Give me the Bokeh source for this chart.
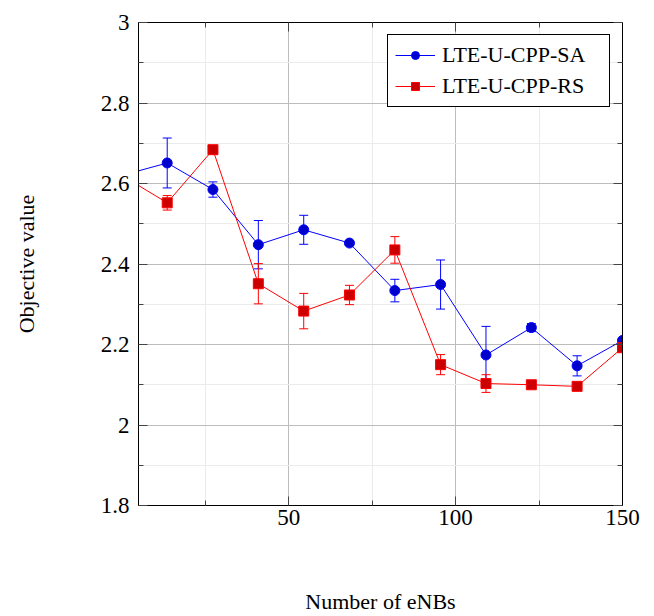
from bokeh.plotting import figure
from bokeh.models import (ColumnDataSource, Whisker, TeeHead, LinearAxis, FixedTicker,
                          Legend, LegendItem, Range1d, CustomJSTickFormatter)
from bokeh.embed import file_html
from bokeh.resources import INLINE

# ---- data ----
n_enbs = [0, 13.6, 27.3, 40.9, 54.5, 68.2, 81.8, 95.5, 109.1, 122.7, 136.4, 150]
sa_mean = [2.62, 2.651, 2.585, 2.448, 2.485, 2.452, 2.334, 2.349, 2.174, 2.242, 2.147, 2.210]
sa_err = [0.0, 0.062, 0.019, 0.060, 0.036, 0.006, 0.028, 0.061, 0.071, 0.010, 0.025, 0.005]
rs_mean = [2.62, 2.552, 2.684, 2.351, 2.283, 2.323, 2.435, 2.150, 2.103, 2.100, 2.096, 2.192]
rs_err = [0.0, 0.018, 0.004, 0.050, 0.044, 0.024, 0.033, 0.025, 0.022, 0.004, 0.003, 0.005]
series_names = ["LTE-U-CPP-SA", "LTE-U-CPP-RS"]
x_major = [0, 50, 100, 150]
x_minor = [25, 75, 125]
y_major = [1.8, 2.0, 2.2, 2.4, 2.6, 2.8, 3.0]
y_minor = [1.9, 2.1, 2.3, 2.5, 2.7, 2.9]

FONT = "Liberation Serif"

p = figure(width=654, height=616, output_backend="svg", toolbar_location=None,
           x_range=Range1d(5, 150), y_range=Range1d(1.8, 3.0),
           min_border_left=138, min_border_right=32, min_border_top=22, min_border_bottom=111,
           x_axis_label="Number of eNBs", y_axis_label="Objective value")
p.background_fill_color = "white"
p.border_fill_color = "white"
p.outline_line_color = "black"
p.outline_line_width = 1

xt = FixedTicker(ticks=x_major, minor_ticks=x_minor)
yt = FixedTicker(ticks=y_major, minor_ticks=y_minor)
fmt = CustomJSTickFormatter(code="return String(Math.round(tick*10)/10);")
blank = CustomJSTickFormatter(code="return '';")

p.xaxis.ticker = xt
p.yaxis.ticker = yt
p.yaxis.formatter = fmt
p.xaxis.formatter = fmt

for ax in (p.xaxis[0], p.yaxis[0]):
    ax.major_label_text_font = FONT
    ax.major_label_text_font_size = "23px"
    ax.major_label_text_color = "black"
    ax.axis_label_text_font = FONT
    ax.axis_label_text_font_size = "22px"
    ax.axis_label_text_font_style = "normal"
    ax.axis_label_text_color = "black"
    ax.major_tick_in = 9
    ax.major_tick_out = 0
    ax.minor_tick_in = 5
    ax.minor_tick_out = 0
    ax.major_tick_line_color = "#444444"
    ax.minor_tick_line_color = "#444444"
    ax.axis_line_color = "black"
p.yaxis.major_label_standoff = 9
p.yaxis.axis_label_standoff = 59
p.xaxis.major_label_standoff = 4
p.xaxis.axis_label_standoff = 61

for loc, tk in (("right", yt), ("above", xt)):
    ax = LinearAxis(ticker=tk, formatter=blank, major_label_standoff=0,
                    major_tick_in=9, major_tick_out=0, minor_tick_in=5, minor_tick_out=0,
                    major_tick_line_color="#444444", minor_tick_line_color="#444444",
                    axis_line_color="black")
    p.add_layout(ax, loc)

p.xgrid.ticker = xt
p.ygrid.ticker = yt
for g in (p.xgrid[0], p.ygrid[0]):
    g.grid_line_color = "#bdbdbd"
    g.grid_line_width = 1
    g.minor_grid_line_color = "#ebebeb"
    g.minor_grid_line_width = 1

styles = [
    dict(mean=sa_mean, err=sa_err, line="#0000ff", fill="#0000cc", marker="circle", size=10),
    dict(mean=rs_mean, err=rs_err, line="#ff0000", fill="#cc0000", marker="square", size=10),
]

items = []
for name, st in zip(series_names, styles):
    src = ColumnDataSource(dict(
        x=n_enbs, y=st["mean"],
        upper=[m + e for m, e in zip(st["mean"], st["err"])],
        lower=[m - e for m, e in zip(st["mean"], st["err"])],
    ))
    ln = p.line("x", "y", source=src, line_color=st["line"], line_width=1)
    wh = Whisker(base="x", upper="upper", lower="lower", source=src,
                 line_color=st["line"], line_width=1,
                 upper_head=TeeHead(size=9, line_color=st["line"], line_width=1),
                 lower_head=TeeHead(size=9, line_color=st["line"], line_width=1))
    p.add_layout(wh)
    sc = p.scatter("x", "y", source=src, marker=st["marker"], size=st["size"],
                   fill_color=st["fill"], line_color=st["line"], line_width=1)
    items.append(LegendItem(label=name, renderers=[ln, sc]))

legend = Legend(items=items, location="top_right")
legend.label_text_font = FONT
legend.label_text_font_size = "22px"
legend.label_text_color = "black"
legend.border_line_color = "black"
legend.border_line_width = 1
legend.border_line_alpha = 1
legend.background_fill_color = "white"
legend.background_fill_alpha = 1
legend.glyph_width = 40
legend.glyph_height = 20
legend.label_standoff = 7
legend.padding = 7
legend.spacing = 5
legend.margin = 12
legend.label_width = 160
p.add_layout(legend)

open("out.html", "w").write(file_html(p, INLINE))
